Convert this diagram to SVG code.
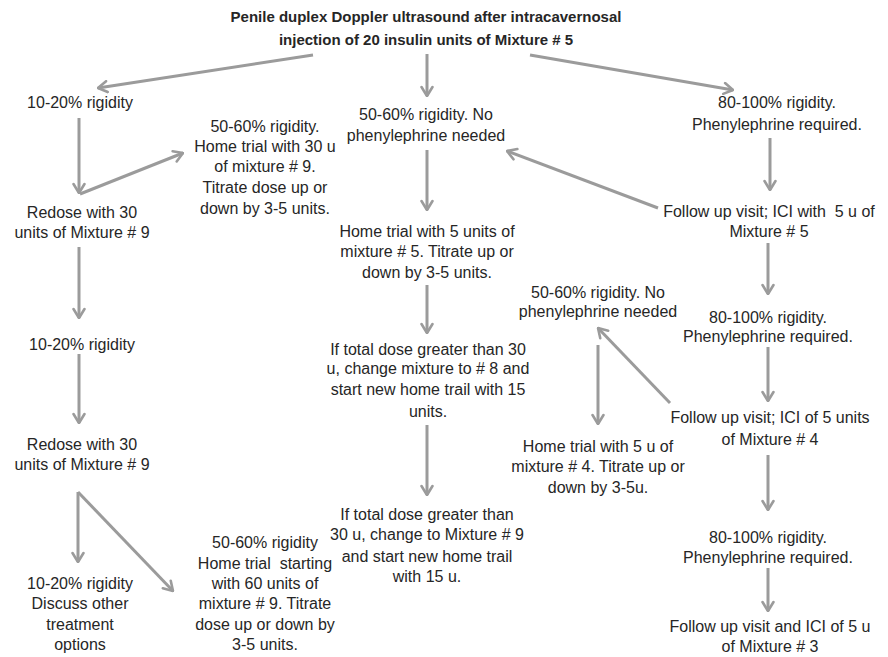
<svg xmlns="http://www.w3.org/2000/svg" width="888" height="657" viewBox="0 0 888 657">
<style>
text{font-family:"Liberation Sans",Arial,sans-serif;font-size:16px;fill:#262626;text-anchor:middle}
.title{font-weight:bold;font-size:15px}
.pre{white-space:pre}
.c line{stroke:#9b9b9b;stroke-width:3;marker-end:url(#ah)}
</style>
<defs>
<marker id="ah" viewBox="0 0 12 14" refX="11" refY="7" markerWidth="12" markerHeight="14" markerUnits="userSpaceOnUse" orient="auto">
<path d="M2,1.5 L11,7 L2,12.5" fill="none" stroke="#9b9b9b" stroke-width="2.6" stroke-linecap="round" stroke-linejoin="round"/>
</marker>
</defs>
<rect width="888" height="657" fill="#fff"/>
<g class="c" id="connectors">
<line x1="313" y1="55" x2="98" y2="88"/>
<line x1="427" y1="54" x2="427" y2="96"/>
<line x1="530" y1="55" x2="733" y2="90"/>
<line x1="79" y1="118" x2="79" y2="193"/>
<line x1="80" y1="194" x2="183" y2="153"/>
<line x1="79" y1="247" x2="79" y2="318"/>
<line x1="79" y1="354" x2="79" y2="423"/>
<line x1="78" y1="492" x2="78" y2="562"/>
<line x1="78" y1="492" x2="173" y2="591"/>
<line x1="427" y1="150" x2="427" y2="210"/>
<line x1="427" y1="285" x2="427" y2="333"/>
<line x1="427" y1="425" x2="427" y2="495"/>
<line x1="770" y1="138" x2="770" y2="190"/>
<line x1="658" y1="208" x2="507" y2="151"/>
<line x1="768" y1="243" x2="768" y2="294"/>
<line x1="768" y1="347" x2="768" y2="401"/>
<line x1="670" y1="403" x2="598" y2="328"/>
<line x1="598" y1="345" x2="598" y2="424"/>
<line x1="768" y1="455" x2="768" y2="510"/>
<line x1="768" y1="568" x2="768" y2="611"/>
</g>
<g id="title"><text class="title" x="426" y="22">Penile duplex Doppler ultrasound after intracavernosal</text><text class="title" x="426" y="45">injection of 20 insulin units of Mixture # 5</text></g>
<g id="n1"><text x="80" y="108">10-20% rigidity</text></g>
<g id="n2"><text x="265" y="132">50-60% rigidity.</text><text x="265" y="152">Home trial with 30 u</text><text x="265" y="172">of mixture # 9.</text><text x="265" y="193">Titrate dose up or</text><text x="265" y="214">down by 3-5 units.</text></g>
<g id="n3"><text x="426" y="120">50-60% rigidity. No</text><text x="426" y="141">phenylephrine needed</text></g>
<g id="n4"><text x="777" y="108">80-100% rigidity.</text><text x="777" y="130">Phenylephrine required.</text></g>
<g id="n5"><text x="82" y="218">Redose with 30</text><text x="82" y="238">units of Mixture # 9</text></g>
<g id="n6"><text x="427" y="237">Home trial with 5 units of</text><text x="427" y="257">mixture # 5. Titrate up or</text><text x="427" y="278">down by 3-5 units.</text></g>
<g id="n7"><text class="pre" x="769" y="217">Follow up visit; ICI with  5 u of</text><text x="769" y="237">Mixture # 5</text></g>
<g id="n8"><text x="598" y="298">50-60% rigidity. No</text><text x="598" y="317">phenylephrine needed</text></g>
<g id="n9"><text x="82" y="350">10-20% rigidity</text></g>
<g id="n10"><text x="768" y="323">80-100% rigidity.</text><text x="768" y="342">Phenylephrine required.</text></g>
<g id="n11"><text x="428" y="355">If total dose greater than 30</text><text x="428" y="374">u, change mixture to # 8 and</text><text x="428" y="395">start new home trail with 15</text><text x="428" y="417">units.</text></g>
<g id="n12"><text x="770" y="423">Follow up visit; ICI of 5 units</text><text x="770" y="445">of Mixture # 4</text></g>
<g id="n13"><text x="598" y="452">Home trial with 5 u of</text><text x="598" y="472">mixture # 4. Titrate up or</text><text x="598" y="493">down by 3-5u.</text></g>
<g id="n14"><text x="82" y="450">Redose with 30</text><text x="82" y="470">units of Mixture # 9</text></g>
<g id="n15"><text x="427" y="520">If total dose greater than</text><text x="427" y="540">30 u, change to Mixture # 9</text><text x="427" y="562">and start new home trail</text><text x="427" y="582">with 15 u.</text></g>
<g id="n16"><text x="768" y="543">80-100% rigidity.</text><text x="768" y="563">Phenylephrine required.</text></g>
<g id="n17"><text x="265" y="548">50-60% rigidity</text><text class="pre" x="265" y="569">Home trial  starting</text><text x="265" y="589">with 60 units of</text><text x="265" y="609">mixture # 9. Titrate</text><text x="265" y="630">dose up or down by</text><text x="265" y="650">3-5 units.</text></g>
<g id="n18"><text x="80" y="589">10-20% rigidity</text><text x="80" y="609">Discuss other</text><text x="80" y="630">treatment</text><text x="80" y="650">options</text></g>
<g id="n19"><text x="770" y="632">Follow up visit and ICI of 5 u</text><text x="770" y="652">of Mixture # 3</text></g>
</svg>
